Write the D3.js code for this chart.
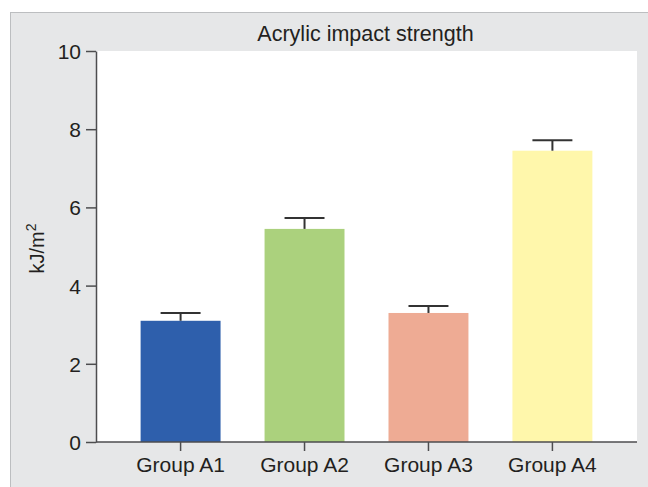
<!DOCTYPE html>
<html>
<head>
<meta charset="utf-8">
<script src="https://cdn.jsdelivr.net/npm/d3@7"></script>
<style>
  body { margin: 0; background: #fff; }
  text { font-family: "Liberation Sans", Arial, sans-serif; fill: #231f20; }
</style>
</head>
<body>
<div id="chart"></div>
<script>
const groups = ['Group A1', 'Group A2', 'Group A3', 'Group A4'];
const means = [3.1, 5.45, 3.3, 7.45];
const errors = [0.2, 0.28, 0.18, 0.27];
const barColors = ['#2e5fac', '#abd17d', '#eeab94', '#fff7ab'];
const yTicks = [0, 2, 4, 6, 8, 10];

const width = 648;
const height = 487;
const plot = { left: 96, right: 637, top: 51, bottom: 442 };

const svg = d3.select('#chart').append('svg')
  .attr('width', width).attr('height', height);

// gray panel
svg.append('rect')
  .attr('x', 10.5).attr('y', 12.5)
  .attr('width', width).attr('height', height)
  .style('fill', '#e6e7e8').style('stroke', '#bcbec0').style('stroke-width', 1);

// white plot area
svg.append('rect')
  .attr('x', plot.left).attr('y', plot.top)
  .attr('width', plot.right - plot.left).attr('height', plot.bottom - plot.top)
  .style('fill', '#fff');

const x = d3.scaleBand().domain(groups)
  .range([plot.left, plot.right]).paddingInner(0.355).paddingOuter(0.36);
const y = d3.scaleLinear().domain([0, 10]).range([plot.bottom, plot.top]);

const data = groups.map((g, i) => ({ g, v: means[i], e: errors[i], c: barColors[i] }));

svg.selectAll('rect.bar').data(data).enter().append('rect')
  .attr('class', 'bar')
  .attr('x', d => x(d.g)).attr('width', x.bandwidth())
  .attr('y', d => y(d.v)).attr('height', d => y(0) - y(d.v))
  .style('fill', d => d.c);

// error bars (upper only)
const err = svg.selectAll('g.err').data(data).enter().append('g').attr('class', 'err');
err.append('line')
  .attr('x1', d => x(d.g) + x.bandwidth() / 2).attr('x2', d => x(d.g) + x.bandwidth() / 2)
  .attr('y1', d => y(d.v)).attr('y2', d => y(d.v + d.e))
  .style('stroke', '#333').style('stroke-width', 2);
err.append('line')
  .attr('x1', d => x(d.g) + x.bandwidth() / 4).attr('x2', d => x(d.g) + x.bandwidth() * 3 / 4)
  .attr('y1', d => y(d.v + d.e)).attr('y2', d => y(d.v + d.e))
  .style('stroke', '#333').style('stroke-width', 2);

// axes
const yAxis = svg.append('g')
  .attr('transform', `translate(${plot.left},0)`)
  .call(d3.axisLeft(y).tickValues(yTicks).tickSize(10).tickPadding(5).tickSizeOuter(0));
const xAxis = svg.append('g')
  .attr('transform', `translate(0,${plot.bottom})`)
  .call(d3.axisBottom(x).tickSize(9).tickPadding(6).tickSizeOuter(0));
xAxis.select('.domain').attr('d', `M${plot.left},0H${plot.right}`);

[yAxis, xAxis].forEach(a => {
  a.selectAll('.domain, .tick line').style('stroke', '#4d4d4f').style('stroke-width', 1.5);
  a.selectAll('.tick text').style('font-size', '21px').style('font-family', '"Liberation Sans", Arial, sans-serif').style('fill', '#231f20');
});
yAxis.selectAll('.tick text').attr('dy', '0.36em');
xAxis.selectAll('.tick text').attr('dy', '0.72em');

// title
svg.append('text')
  .attr('x', (plot.left + plot.right) / 2 - 1).attr('y', 41)
  .attr('text-anchor', 'middle')
  .style('font-size', '21.5px')
  .text('Acrylic impact strength');

// y label
const yl = svg.append('text')
  .attr('transform', `translate(44,${(plot.top + plot.bottom) / 2 + 2}) rotate(-90)`)
  .attr('text-anchor', 'middle')
  .style('font-size', '20px');
yl.append('tspan').text('kJ/m');
yl.append('tspan').attr('dy', '-0.55em').style('font-size', '14px').text('2');
</script>
</body>
</html>
